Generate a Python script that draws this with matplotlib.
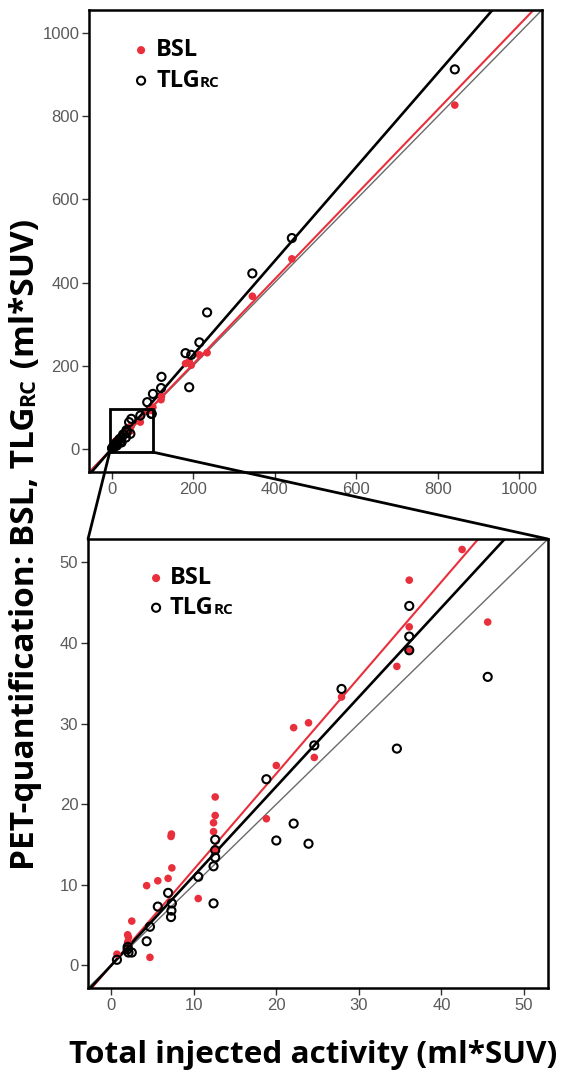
import matplotlib.pyplot as plt
from matplotlib.patches import Rectangle, ConnectionPatch

# total injected activity vs. PET quantification, one entry per lesion
total_activity = [0.7, 2.0, 2.0, 2.1, 2.5, 4.3, 4.7, 5.65, 6.9, 7.25,
                  7.3, 7.35, 10.55, 12.4, 12.4, 12.6, 12.6, 12.6, 18.8, 20.0,
                  22.1, 23.9, 24.6, 27.9, 34.6, 36.1, 36.1, 36.1, 42.5, 45.6,
                  48, 70, 87, 97, 98, 101, 121, 122, 181, 190,
                  195, 215, 234, 345, 442, 842]
bsl = [1.4, 3.8, 2.9, 3.5, 5.5, 9.9, 1.0, 10.5, 10.8, 16.0,
       16.3, 12.1, 8.3, 17.7, 16.6, 20.9, 18.6, 14.4, 18.2, 24.8,
       29.5, 30.1, 25.8, 33.3, 37.1, 47.8, 42.0, 39.0, 51.6, 42.6,
       55, 64, 90, 95, 92, 100, 118, 126, 205, 210,
       201, 226, 231, 367, 457, 827]
tlg_rc = [0.7, 2.3, 2.0, 1.6, 1.6, 3.0, 4.8, 7.3, 9.0, 6.0,
          6.8, 7.7, 11.0, 12.3, 7.7, 15.6, 14.3, 13.4, 23.1, 15.5,
          17.6, 15.1, 27.3, 34.3, 26.9, 44.6, 40.8, 39.1, 64, 35.8,
          72, 80, 112, 84, 84, 132, 146, 173, 230, 148,
          226, 256, 328, 422, 507, 913]

# regression slopes (through origin): full range / low range
slope_full = {'bsl': 1.02, 'tlg': 1.13}
slope_low = {'bsl': 1.19, 'tlg': 1.11}

ticks_full = [0, 200, 400, 600, 800, 1000]
ticks_low = [0, 10, 20, 30, 40, 50]
lim_full = (-56, 1056)
lim_low = (-2.8, 52.9)
zoom_box = (-5, -8, 100, 95)   # x0, y0, x1, y1

RED = '#ea2f3c'
BOLD_FONT = 'Open Sans'

plt.rcParams['font.family'] = ['Liberation Sans', 'DejaVu Sans']

fig = plt.figure(figsize=(5.61, 10.71), dpi=100)
ax1 = fig.add_axes([0.1586, 0.5593, 0.8075, 0.4314])
ax2 = fig.add_axes([0.1569, 0.0775, 0.8199, 0.4192])


def draw_panel(ax, slopes, lim, ticks, mx, tx):
    ax.axline((0, 0), slope=1, color='#6a6a6a', lw=1.0, zorder=1)
    ax.axline((0, 0), slope=slopes['bsl'], color=RED, lw=1.5, zorder=2)
    ax.axline((0, 0), slope=slopes['tlg'], color='black', lw=1.9, zorder=2)
    ax.scatter(total_activity, bsl, s=30, color=RED, edgecolors='none', zorder=3)
    ax.scatter(total_activity, tlg_rc, s=34, facecolors='none',
               edgecolors='black', linewidths=1.5, zorder=4)
    ax.set_xlim(lim)
    ax.set_ylim(lim)
    ax.set_xticks(ticks)
    ax.set_yticks(ticks)
    ax.tick_params(direction='out', length=5, width=1.0, color='#333333',
                   labelsize=12, labelcolor='#5a5a5a', pad=2)
    for sp in ax.spines.values():
        sp.set_linewidth(1.8)

    # legend drawn by hand so the subscript sits on the baseline
    ax.scatter([mx], [0.913], s=34, color=RED, edgecolors='none',
               transform=ax.transAxes, clip_on=False)
    ax.scatter([mx], [0.847], s=34, facecolors='none', edgecolors='black',
               linewidths=1.5, transform=ax.transAxes, clip_on=False)
    ax.text(tx, 0.913, 'BSL', transform=ax.transAxes, family=BOLD_FONT,
            weight='bold', fontsize=17, va='center')
    t = ax.text(tx, 0.847, 'TLG', transform=ax.transAxes, family=BOLD_FONT,
                weight='bold', fontsize=17, va='center')
    return t


leg1 = draw_panel(ax1, slope_full, lim_full, ticks_full, 0.115, 0.148)
leg2 = draw_panel(ax2, slope_low, lim_low, ticks_low, 0.148, 0.178)

# zoom rectangle and connector lines
x0, y0, x1, y1 = zoom_box
ax1.add_patch(Rectangle((x0, y0), x1 - x0, y1 - y0, fill=False,
                        edgecolor='black', lw=2.0, zorder=5))
for xa, xb in [(x0, 0), (x1, 1)]:
    con = ConnectionPatch(xyA=(xa, y0), coordsA=ax1.transData,
                          xyB=(xb, 1), coordsB=ax2.transAxes,
                          color='black', lw=2.0)
    fig.add_artist(con)

fig.canvas.draw()
renderer = fig.canvas.get_renderer()

# "RC" subscript after each legend TLG
for t, ax in [(leg1, ax1), (leg2, ax2)]:
    bb = t.get_window_extent(renderer)
    inv = ax.transAxes.inverted()
    xa, ya = inv.transform((bb.x1, bb.y0 + 0.22 * bb.height))
    ax.text(xa, ya, 'RC', transform=ax.transAxes, family=BOLD_FONT,
            weight='bold', fontsize=11, va='baseline')

# x label, sized to span the panel width
xl = fig.text(313 / 561, 8 / 1071, 'Total injected activity (ml*SUV)',
              family=BOLD_FONT, weight='bold', fontsize=25, ha='center',
              va='baseline')
w = xl.get_window_extent(renderer).width
xl.set_fontsize(25 * 487 / w)

# y label with small "RC", built from rotated pieces
pieces = [('PET-quantification: BSL, TLG', 24), ('RC', 15.5), (' (ml*SUV)', 24)]
base_x = 34 / 561
ypos = 201 / 1071
for txt, size in pieces:
    tt = fig.text(base_x, ypos, txt, family=BOLD_FONT, weight='bold',
                  fontsize=size, rotation=90, rotation_mode='anchor',
                  ha='left', va='baseline')
    bb = tt.get_window_extent(renderer)
    ypos = (bb.y1 + 1) / fig.bbox.height

fig.savefig('out.png', dpi=100)
